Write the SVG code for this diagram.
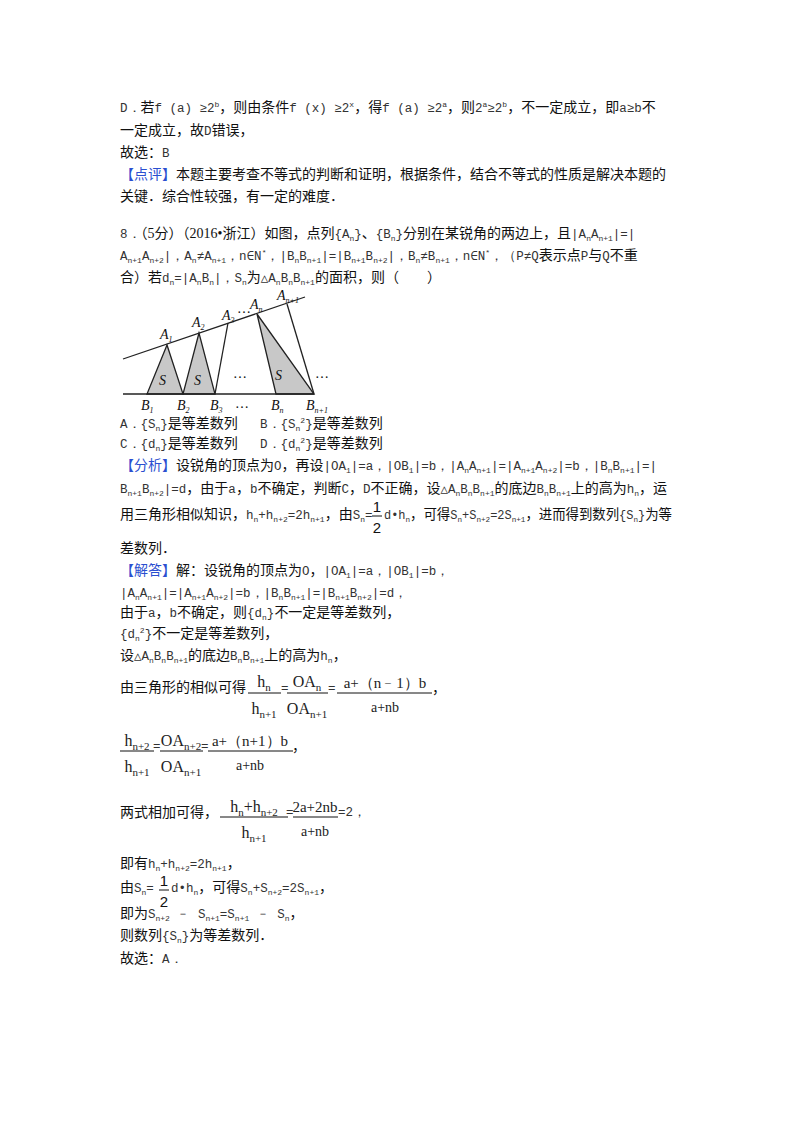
<svg xmlns="http://www.w3.org/2000/svg" width="800" height="1132" viewBox="0 0 800 1132">
<style>
text{font-family:"Liberation Serif","Noto Sans CJK SC",serif;font-size:14px;fill:#111}
.b{fill:#2b4fd0}
.s{font-size:8px;baseline-shift:-3px}
.p{font-size:8px;baseline-shift:5px}
.m{font-family:"Liberation Mono",monospace;font-size:12.5px;fill:#333}
.f{font-family:"Liberation Sans",sans-serif;font-size:15px}
.q{font-family:"Liberation Serif",serif;font-size:16px;fill:#222}
.q .s{font-size:11px;baseline-shift:-4px}
.it{font-family:"Liberation Serif",serif;font-style:italic;font-size:14px}
.fl{stroke:#111;stroke-width:1}
</style>
<rect width="800" height="1132" fill="#fff"/>
<g id="text-top">
<text x="120" y="112"><tspan class="m">D．</tspan>若<tspan class="m">f (a) ≥2<tspan class="p">b</tspan></tspan>，则由条件<tspan class="m">f (x) ≥2<tspan class="p">x</tspan></tspan>，得<tspan class="m">f (a) ≥2<tspan class="p">a</tspan></tspan>，则<tspan class="m">2<tspan class="p">a</tspan>≥2<tspan class="p">b</tspan></tspan>，不一定成立，即<tspan class="m">a≥b</tspan>不</text>
<text x="120" y="135">一定成立，故<tspan class="m">D</tspan>错误，</text>
<text x="120" y="157">故选：<tspan class="m">B</tspan></text>
<text x="120" y="179"><tspan class="b">【点评】</tspan>本题主要考查不等式的判断和证明，根据条件，结合不等式的性质是解决本题的</text>
<text x="120" y="201">关键．综合性较强，有一定的难度．</text>
<text x="120" y="238"><tspan class="m">8．</tspan>（5分）（2016•浙江）如图，点列<tspan class="m">{A<tspan class="s">n</tspan>}</tspan>、<tspan class="m">{B<tspan class="s">n</tspan>}</tspan>分别在某锐角的两边上，且<tspan class="m">|A<tspan class="s">n</tspan>A<tspan class="s">n+1</tspan>|=|</tspan></text>
<text x="120" y="260"><tspan class="m">A<tspan class="s">n+1</tspan>A<tspan class="s">n+2</tspan>|，A<tspan class="s">n</tspan>≠A<tspan class="s">n+1</tspan>，n∈N<tspan class="p">*</tspan>，|B<tspan class="s">n</tspan>B<tspan class="s">n+1</tspan>|=|B<tspan class="s">n+1</tspan>B<tspan class="s">n+2</tspan>|，B<tspan class="s">n</tspan>≠B<tspan class="s">n+1</tspan>，n∈N<tspan class="p">*</tspan>，（P≠Q</tspan>表示点<tspan class="m">P</tspan>与<tspan class="m">Q</tspan>不重</text>
<text x="120" y="282">合）若<tspan class="m">d<tspan class="s">n</tspan>=|A<tspan class="s">n</tspan>B<tspan class="s">n</tspan>|，S<tspan class="s">n</tspan></tspan>为<tspan class="m">△A<tspan class="s">n</tspan>B<tspan class="s">n</tspan>B<tspan class="s">n+1</tspan></tspan>的面积，则（　　）</text>
</g>
<g id="figure">
<g fill="#c8c8c8" stroke="#222" stroke-width="1.3">
<polygon points="167,345 147,394 183,394"/>
<polygon points="199,333 183,394 215,394"/>
<polygon points="257,314 276,394 314,394"/>
</g>
<g stroke="#222" stroke-width="1.3">
<line x1="123" y1="359" x2="305" y2="297"/>
<line x1="123" y1="394" x2="314" y2="394"/>
<line x1="228" y1="323" x2="215" y2="394"/>
<line x1="287" y1="304" x2="314" y2="394"/>
</g>
<text class="it" x="160" y="339">A<tspan class="s">1</tspan></text>
<text class="it" x="192" y="327">A<tspan class="s">2</tspan></text>
<text class="it" x="222" y="320">A<tspan class="s">3</tspan></text>
<text class="it" x="238" y="313">…</text>
<text class="it" x="250" y="309">A<tspan class="s">n</tspan></text>
<text class="it" x="277" y="300">A<tspan class="s">n+1</tspan></text>
<text class="it" x="159" y="385">S</text>
<text class="it" x="194" y="385">S</text>
<text class="it" x="275" y="380">S</text>
<text class="it" x="234" y="378">…</text>
<text class="it" x="316" y="378">…</text>
<text class="it" x="141" y="410">B<tspan class="s">1</tspan></text>
<text class="it" x="177" y="410">B<tspan class="s">2</tspan></text>
<text class="it" x="210" y="410">B<tspan class="s">3</tspan></text>
<text class="it" x="236" y="408">…</text>
<text class="it" x="271" y="410">B<tspan class="s">n</tspan></text>
<text class="it" x="306" y="410">B<tspan class="s">n+1</tspan></text>
</g>
<g id="options">
<text x="120" y="428"><tspan class="m">A．{S<tspan class="s">n</tspan>}</tspan>是等差数列</text>
<text x="260" y="428"><tspan class="m">B．{S<tspan class="s">n</tspan><tspan class="p">2</tspan>}</tspan>是等差数列</text>
<text x="120" y="448"><tspan class="m">C．{d<tspan class="s">n</tspan>}</tspan>是等差数列</text>
<text x="260" y="448"><tspan class="m">D．{d<tspan class="s">n</tspan><tspan class="p">2</tspan>}</tspan>是等差数列</text>
</g>
<g id="analysis">
<text x="120" y="470"><tspan class="b">【分析】</tspan>设锐角的顶点为<tspan class="m">O</tspan>，再设<tspan class="m">|OA<tspan class="s">1</tspan>|=a，|OB<tspan class="s">1</tspan>|=b，|A<tspan class="s">n</tspan>A<tspan class="s">n+1</tspan>|=|A<tspan class="s">n+1</tspan>A<tspan class="s">n+2</tspan>|=b，|B<tspan class="s">n</tspan>B<tspan class="s">n+1</tspan>|=|</tspan></text>
<text x="120" y="493"><tspan class="m">B<tspan class="s">n+1</tspan>B<tspan class="s">n+2</tspan>|=d</tspan>，由于<tspan class="m">a</tspan>，<tspan class="m">b</tspan>不确定，判断<tspan class="m">C</tspan>，<tspan class="m">D</tspan>不正确，设<tspan class="m">△A<tspan class="s">n</tspan>B<tspan class="s">n</tspan>B<tspan class="s">n+1</tspan></tspan>的底边<tspan class="m">B<tspan class="s">n</tspan>B<tspan class="s">n+1</tspan></tspan>上的高为<tspan class="m">h<tspan class="s">n</tspan></tspan>，运</text>
<text x="120" y="519">用三角形相似知识，<tspan class="m">h<tspan class="s">n</tspan>+h<tspan class="s">n+2</tspan>=2h<tspan class="s">n+1</tspan></tspan>，由<tspan class="m">S<tspan class="s">n</tspan>=</tspan></text>
<g id="half1">
<text class="f" x="377" y="512" text-anchor="middle">1</text>
<line class="fl" x1="372" y1="516" x2="382" y2="516"/>
<text class="f" x="377" y="533" text-anchor="middle">2</text>
</g>
<text x="384" y="519" textLength="288" lengthAdjust="spacingAndGlyphs"><tspan class="m">d•h<tspan class="s">n</tspan></tspan>，可得<tspan class="m">S<tspan class="s">n</tspan>+S<tspan class="s">n+2</tspan>=2S<tspan class="s">n+1</tspan></tspan>，进而得到数列<tspan class="m">{S<tspan class="s">n</tspan>}</tspan>为等</text>
<text x="120" y="553">差数列．</text>
</g>
<g id="solution">
<text x="120" y="575"><tspan class="b">【解答】</tspan>解：设锐角的顶点为<tspan class="m">O</tspan>，<tspan class="m">|OA<tspan class="s">1</tspan>|=a，|OB<tspan class="s">1</tspan>|=b，</tspan></text>
<text x="120" y="597"><tspan class="m">|A<tspan class="s">n</tspan>A<tspan class="s">n+1</tspan>|=|A<tspan class="s">n+1</tspan>A<tspan class="s">n+2</tspan>|=b，|B<tspan class="s">n</tspan>B<tspan class="s">n+1</tspan>|=|B<tspan class="s">n+1</tspan>B<tspan class="s">n+2</tspan>|=d，</tspan></text>
<text x="120" y="617">由于<tspan class="m">a</tspan>，<tspan class="m">b</tspan>不确定，则<tspan class="m">{d<tspan class="s">n</tspan>}</tspan>不一定是等差数列，</text>
<text x="120" y="638"><tspan class="m">{d<tspan class="s">n</tspan><tspan class="p">2</tspan>}</tspan>不一定是等差数列，</text>
<text x="120" y="660">设<tspan class="m">△A<tspan class="s">n</tspan>B<tspan class="s">n</tspan>B<tspan class="s">n+1</tspan></tspan>的底边<tspan class="m">B<tspan class="s">n</tspan>B<tspan class="s">n+1</tspan></tspan>上的高为<tspan class="m">h<tspan class="s">n</tspan></tspan>，</text>

<text x="120" y="692">由三角形的相似可得</text>
<text class="q" x="264" y="687" text-anchor="middle">h<tspan class="s">n</tspan></text>
<line class="fl" x1="248" y1="693" x2="281" y2="693"/>
<text class="q" x="264" y="714" text-anchor="middle">h<tspan class="s">n+1</tspan></text>
<text class="m" x="281" y="692">=</text>
<text class="q" x="307" y="687" text-anchor="middle">OA<tspan class="s">n</tspan></text>
<line class="fl" x1="287" y1="693" x2="328" y2="693"/>
<text class="q" x="307" y="714" text-anchor="middle">OA<tspan class="s">n+1</tspan></text>
<text class="m" x="328" y="692">=</text>
<text class="q" x="385" y="688" text-anchor="middle" style="font-size:15px">a+（n﹣1）b</text>
<line class="fl" x1="337" y1="693" x2="432" y2="693"/>
<text class="q" x="385" y="712" text-anchor="middle" style="font-size:14px">a+nb</text>
<text x="432" y="693">，</text>

<text class="q" x="137" y="746" text-anchor="middle">h<tspan class="s">n+2</tspan></text>
<line class="fl" x1="120" y1="751" x2="154" y2="751"/>
<text class="q" x="137" y="772" text-anchor="middle">h<tspan class="s">n+1</tspan></text>
<text class="m" x="153" y="750">=</text>
<text class="q" x="181" y="746" text-anchor="middle">OA<tspan class="s">n+2</tspan></text>
<line class="fl" x1="160" y1="751" x2="203" y2="751"/>
<text class="q" x="181" y="772" text-anchor="middle">OA<tspan class="s">n+1</tspan></text>
<text class="m" x="201" y="750">=</text>
<text class="q" x="250" y="746" text-anchor="middle" style="font-size:15px">a+（n+1）b</text>
<line class="fl" x1="208" y1="751" x2="293" y2="751"/>
<text class="q" x="250" y="770" text-anchor="middle" style="font-size:14px">a+nb</text>
<text x="292" y="751">，</text>

<text x="120" y="817">两式相加可得，</text>
<text class="q" x="254" y="812" text-anchor="middle">h<tspan class="s">n</tspan>+h<tspan class="s">n+2</tspan></text>
<line class="fl" x1="220" y1="817" x2="288" y2="817"/>
<text class="q" x="254" y="838" text-anchor="middle">h<tspan class="s">n+1</tspan></text>
<text class="m" x="286" y="816">=</text>
<text class="q" x="315" y="812" text-anchor="middle" style="font-size:15px">2a+2nb</text>
<line class="fl" x1="293" y1="817" x2="338" y2="817"/>
<text class="q" x="315" y="836" text-anchor="middle" style="font-size:14px">a+nb</text>
<text class="m" x="338" y="816">=2，</text>

<text x="120" y="868">即有<tspan class="m">h<tspan class="s">n</tspan>+h<tspan class="s">n+2</tspan>=2h<tspan class="s">n+1</tspan></tspan>，</text>
<text x="120" y="892">由<tspan class="m">S<tspan class="s">n</tspan>=</tspan></text>
<g id="half2">
<text class="f" x="164" y="886" text-anchor="middle">1</text>
<line class="fl" x1="159" y1="890" x2="169" y2="890"/>
<text class="f" x="164" y="907" text-anchor="middle">2</text>
</g>
<text x="171" y="892"><tspan class="m">d•h<tspan class="s">n</tspan></tspan>，可得<tspan class="m">S<tspan class="s">n</tspan>+S<tspan class="s">n+2</tspan>=2S<tspan class="s">n+1</tspan></tspan>，</text>
<text x="120" y="918">即为<tspan class="m">S<tspan class="s">n+2</tspan> ﹣ S<tspan class="s">n+1</tspan>=S<tspan class="s">n+1</tspan> ﹣ S<tspan class="s">n</tspan></tspan>，</text>
<text x="120" y="940">则数列<tspan class="m">{S<tspan class="s">n</tspan>}</tspan>为等差数列．</text>
<text x="120" y="963">故选：<tspan class="m">A．</tspan></text>
</g>
<g id="connectors"/>
</svg>
